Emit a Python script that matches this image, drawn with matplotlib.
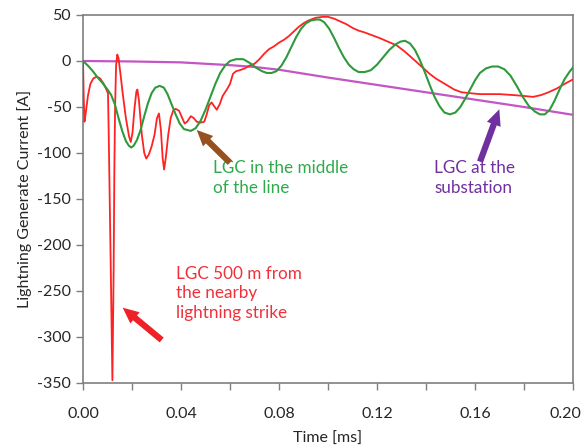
import matplotlib
matplotlib.use("Agg")
import matplotlib.pyplot as plt
from matplotlib.patches import FancyArrowPatch
from matplotlib.ticker import MultipleLocator, FixedLocator
from matplotlib.transforms import ScaledTranslation

plt.rcParams['font.family'] = ['Lato', 'DejaVu Sans']
plt.rcParams['axes.unicode_minus'] = False

# LGC 500 m from the nearby lightning strike
t_near = [0.0000, 0.0003, 0.0006, 0.0012, 0.0020, 0.0030, 0.0042, 0.0056, 0.0070,
          0.0085, 0.0097, 0.0102, 0.0105, 0.0113, 0.0120, 0.0125, 0.0128, 0.0131,
          0.0135, 0.0140, 0.0145, 0.0152, 0.0162, 0.0175, 0.0188, 0.0195, 0.0202,
          0.0210, 0.0218, 0.0222, 0.0228, 0.0240, 0.0250, 0.0258, 0.0268, 0.0280,
          0.0292, 0.0302, 0.0310, 0.0318, 0.0325, 0.0331, 0.0338, 0.0348, 0.0358,
          0.0368, 0.0378, 0.0392, 0.0405, 0.0415, 0.0425, 0.0440, 0.0452, 0.0464,
          0.0480, 0.0495, 0.0505, 0.0515, 0.0525, 0.0535, 0.0546, 0.0558, 0.0570,
          0.0587, 0.0600, 0.0612, 0.0625, 0.0640, 0.0660, 0.0680, 0.0700, 0.0720,
          0.0740, 0.0760, 0.0780, 0.0800, 0.0820, 0.0840, 0.0860, 0.0880, 0.0900,
          0.0920, 0.0950, 0.0980, 0.1000, 0.1025, 0.1050, 0.1075, 0.1100, 0.1125,
          0.1150, 0.1180, 0.1210, 0.1245, 0.1280, 0.1310, 0.1340, 0.1365, 0.1390,
          0.1415, 0.1440, 0.1465, 0.1490, 0.1515, 0.1545, 0.1580, 0.1620, 0.1700,
          0.1755, 0.1800, 0.1837, 0.1870, 0.1900, 0.1933, 0.1965, 0.2000]
i_near = [0, -40, -66, -55, -38, -25, -19, -17, -19,
          -25, -32, -35, -80, -220, -347, -230, -118, -50,
          -5, 7, 3, -12, -35, -62, -82, -88, -78,
          -52, -33, -31, -42, -80, -100, -106, -102, -93,
          -80, -62, -57, -75, -105, -118, -105, -80, -62,
          -54, -52, -54, -62, -68, -66, -60, -62, -66,
          -67, -66, -58, -48, -45, -49, -53, -47, -38,
          -31, -25, -14, -11, -10, -8, -5, -3, 2,
          8, 13, 16, 20, 23, 27, 32, 37, 41,
          44, 47, 48, 48, 46, 43, 40, 36, 33,
          31, 28, 25, 21, 17, 11, 4, -2, -8,
          -14, -19, -23, -27, -31, -34, -35, -36, -36,
          -37, -38, -39, -37, -34, -30, -25, -20]

# LGC in the middle of the line
t_mid = [0.0000, 0.0020, 0.0040, 0.0060, 0.0080, 0.0100, 0.0115, 0.0130, 0.0145,
         0.0160, 0.0175, 0.0187, 0.0197, 0.0207, 0.0220, 0.0235, 0.0250, 0.0265,
         0.0280, 0.0295, 0.0313, 0.0330, 0.0345, 0.0360, 0.0378, 0.0395, 0.0412,
         0.0440, 0.0460, 0.0480, 0.0500, 0.0520, 0.0540, 0.0560, 0.0580, 0.0600,
         0.0625, 0.0654, 0.0680, 0.0705, 0.0730, 0.0750, 0.0770, 0.0790, 0.0810,
         0.0830, 0.0850, 0.0870, 0.0890, 0.0910, 0.0930, 0.0950, 0.0967, 0.0985,
         0.1005, 0.1025, 0.1045, 0.1065, 0.1085, 0.1105, 0.1125, 0.1150, 0.1175,
         0.1200, 0.1225, 0.1250, 0.1275, 0.1295, 0.1314, 0.1335, 0.1355, 0.1375,
         0.1395, 0.1415, 0.1435, 0.1455, 0.1475, 0.1498, 0.1520, 0.1540, 0.1560,
         0.1580, 0.1600, 0.1620, 0.1645, 0.1670, 0.1695, 0.1720, 0.1745, 0.1770,
         0.1795, 0.1820, 0.1845, 0.1865, 0.1885, 0.1905, 0.1925, 0.1945, 0.1965,
         0.1985, 0.2000]
i_mid = [0, -5, -11, -18, -24, -31, -37, -47, -62,
         -76, -87, -92, -94, -92, -86, -75, -60, -46,
         -35, -29, -27, -29, -36, -46, -58, -68, -74,
         -76, -73, -65, -53, -39, -25, -13, -5, 0,
         2, 2, -2, -7, -11, -13, -13, -11, -5,
         4, 15, 26, 35, 41, 44, 45, 45, 42,
         35, 25, 14, 4, -4, -9, -12, -12, -10,
         -4, 4, 12, 18, 21, 22, 19, 12, 1,
         -12, -26, -39, -49, -56, -58, -56, -50, -41,
         -31, -21, -13, -8, -6, -6, -9, -16, -27,
         -39, -49, -55, -58, -58, -53, -43, -31, -20,
         -12, -7]

# LGC at the substation
t_sub = [0.00, 0.02, 0.04, 0.05, 0.06, 0.07, 0.08, 0.10, 0.12, 0.14, 0.16, 0.18, 0.20]
i_sub = [0, -0.5, -1.5, -3, -4.5, -6.5, -9.5, -18, -26, -34, -42, -50, -58.5]

x_ticks = [0.00, 0.04, 0.08, 0.12, 0.16, 0.20]
x_tick_labels = ["0.00", "0.04", "0.08", "0.12", "0.16", "0.20"]
y_ticks = [50, 0, -50, -100, -150, -200, -250, -300, -350]

fig = plt.figure(figsize=(5.84, 4.47), dpi=100)
ax = fig.add_axes([83 / 584, 1 - 383 / 447, 490 / 584, 368 / 447])

ax.plot(t_sub, i_sub, color='#C455C4', lw=1.6, zorder=2)
ax.plot(t_near, i_near, color='#FF2222', lw=1.3, zorder=3)
ax.plot(t_mid, i_mid, color='#2E9A3C', lw=1.5, zorder=4)

ax.set_xlim(0, 0.2)
ax.set_ylim(-350, 50)
ax.xaxis.set_major_locator(FixedLocator(x_ticks))
ax.set_xticklabels(x_tick_labels)
ax.xaxis.set_minor_locator(MultipleLocator(0.02))
ax.yaxis.set_major_locator(FixedLocator(y_ticks))
ax.tick_params(axis='both', which='both', direction='out', length=5, width=1,
               color='#7F7F7F', labelsize=11.5, labelcolor='#262626')
ax.tick_params(axis='x', pad=12)
for s in ax.spines.values():
    s.set_color('#7F7F7F')
    s.set_linewidth(1.2)

# keep the last x label inside the canvas
last = ax.get_xticklabels()[-1]
last.set_transform(last.get_transform() + ScaledTranslation(-8 / 100, 0, fig.dpi_scale_trans))

ax.set_xlabel('Time [ms]', fontsize=11.5, color='#262626', labelpad=8)
ax.set_ylabel('Lightning Generate Current [A]', fontsize=11.5, color='#262626', labelpad=4)

# annotation labels
ax.text(0.0379, -279.7, 'LGC 500 m from\nthe nearby\nlightning strike', color='#F0303A',
        fontsize=12.3, va='baseline', ha='left', linespacing=1.3)
ax.text(0.0531, -143.8, 'LGC in the middle\nof the line', color='#2EAA4C',
        fontsize=12.3, va='baseline', ha='left', linespacing=1.3)
ax.text(0.1433, -143.2, 'LGC at the\nsubstation', color='#7030A0',
        fontsize=12.3, va='baseline', ha='left', linespacing=1.3)


def px(x, y):
    return (x - 83) / 2450.0, 50 - (y - 15) * 400.0 / 368.0


arrow_style = 'simple,head_length=1.15,head_width=1.05,tail_width=0.45'
for tail, tip, col in [((161.7, 340.0), (122.7, 307.7), '#EE2028'),
                       ((230.0, 162.7), (196.7, 130.0), '#96511F'),
                       ((480.0, 161.7), (499.3, 109.3), '#7030A0')]:
    ax.add_patch(FancyArrowPatch(px(*tail), px(*tip), arrowstyle=arrow_style,
                                 mutation_scale=10, color=col, lw=0,
                                 shrinkA=0, shrinkB=0, zorder=5))

fig.savefig('out.png', dpi=100)
